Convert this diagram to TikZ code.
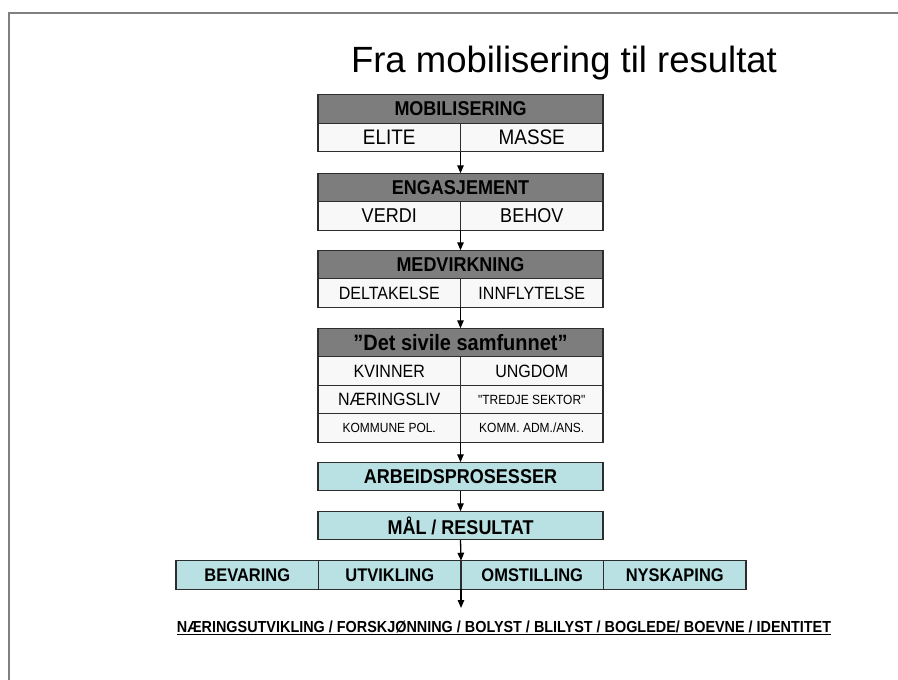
\documentclass[tikz,border=0pt]{standalone}
\usepackage{fontspec}
\setmainfont{Liberation Sans}
\newfontfamily\boxfont{Liberation Sans}[FakeStretch=0.9]
\usetikzlibrary{arrows.meta}

\definecolor{hdrgray}{RGB}{125,125,125}
\definecolor{cellwhite}{RGB}{248,248,248}
\definecolor{boxblue}{RGB}{185,225,227}
\definecolor{framegray}{RGB}{128,128,128}
\definecolor{edgegray}{RGB}{45,45,45}

\newcommand{\fsz}[1]{\fontsize{#1}{#1}\selectfont}

\begin{document}
\begin{tikzpicture}[x=1pt,y=-1pt,
		every node/.style={inner sep=0pt,outer sep=0pt},
		hdr/.style={draw=edgegray,line width=1.2pt,fill=hdrgray,minimum width=285pt,minimum height=28.5pt,font=\boxfont\bfseries\fsz{20}},
		cell/.style={draw=edgegray,line width=1.2pt,fill=cellwhite,minimum width=142.5pt,minimum height=28.5pt},
		bluebox/.style={draw=edgegray,line width=1.2pt,fill=boxblue,minimum width=#1,minimum height=28.5pt,font=\boxfont\bfseries\fsz{20}},
		bluebox/.default=285pt,
		arr/.style={-{Triangle[length=8pt,width=6.5pt]},line width=1.3pt}]
		\useasboundingbox (0,0) rectangle (898,680);
		
		% Draw frame and title
		\draw[framegray,line width=2pt] (9,681) -- (9,13) -- (899,13);
		\node[anchor=base] (title) at (564,72) {\fsz{36.5}Fra mobilisering til resultat};
		
		% Draw the three upper stages
		\foreach \n/\y/\t/\l/\r/\s in {mob/109/MOBILISERING/ELITE/MASSE/21, eng/187.5/ENGASJEMENT/VERDI/BEHOV/20, med/264.5/MEDVIRKNING/DELTAKELSE/INNFLYTELSE/17.8}{
			\node[hdr] (\n) at (460.5,\y) {\t};
			\node[cell,font=\boxfont\fsz{\s}] (\n L) at (389.25,\y+28.5) {\l};
			\node[cell,font=\boxfont\fsz{\s}] (\n R) at (531.75,\y+28.5) {\r};
		}
		
		% Draw the civil society block
		\node[hdr,font=\boxfont\bfseries\fsz{22.2}] (det) at (460.5,342.5) {”Det sivile samfunnet”};
		\foreach \n/\y/\l/\r/\a/\b in {kvi/371/KVINNER/UNGDOM/17.8/17.8, nae/399.5/NÆRINGSLIV/{"TREDJE SEKTOR"}/17.8/13.3, kom/428/{KOMMUNE POL.}/{KOMM. ADM./ANS.}/13.3/13.3}{
			\node[cell,font=\boxfont\fsz{\a}] (\n L) at (389.25,\y) {\l};
			\node[cell,font=\boxfont\fsz{\b}] (\n R) at (531.75,\y) {\r};
		}
		
		% Draw process and result boxes
		\node[bluebox] (arb) at (460.5,476.5) {ARBEIDSPROSESSER};
		\node[bluebox] (mal) at (460.5,525.5) {MÅL / RESULTAT};
		\foreach \n/\x/\t in {bev/247.25/BEVARING, utv/389.75/UTVIKLING, oms/532.25/OMSTILLING, nys/674.75/NYSKAPING}{
			\node[bluebox=142.5pt,font=\boxfont\bfseries\fsz{18.3}] (\n) at (\x,575) {\t};
		}
		\node (res) at (504,628) {\boxfont\bfseries\fsz{16}\underline{NÆRINGSUTVIKLING / FORSKJØNNING / BOLYST / BLILYST / BOGLEDE/ BOEVNE / IDENTITET}};
		\coordinate (resTip) at (461,608);
		
		% Draw arrows
		\draw[arr] (mobL.south east) -- (eng.north);
		\draw[arr] (engL.south east) -- (med.north);
		\draw[arr] (medL.south east) -- (det.north);
		\draw[arr] (komL.south east) -- (arb.north);
		\draw[arr] (arb.south) -- (mal.north);
		\draw[arr] (mal.south) -- (utv.north east);
		\draw[arr] (utv.south east) -- (resTip);
	\end{tikzpicture}
\end{document}
